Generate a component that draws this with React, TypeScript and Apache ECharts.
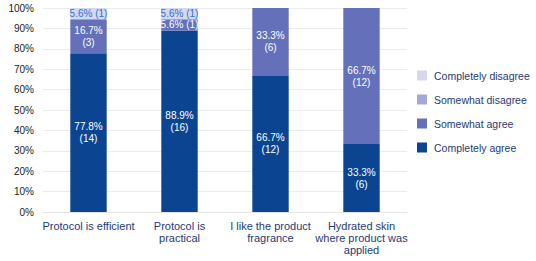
import React, { useEffect, useRef } from "react";
import * as echarts from "echarts";

const categories = [
  "Protocol is efficient",
  "Protocol is\npractical",
  "I like the product\nfragrance",
  "Hydrated skin\nwhere product was\napplied",
];
const seriesNames = ["Completely agree", "Somewhat agree", "Somewhat disagree", "Completely disagree"];
const pctCompletelyAgree = [77.8, 88.9, 66.7, 33.3];
const nCompletelyAgree = [14, 16, 12, 6];
const pctSomewhatAgree = [16.7, 5.6, 33.3, 66.7];
const nSomewhatAgree = [3, 1, 6, 12];
const pctSomewhatDisagree = [0, 0, 0, 0];
const nSomewhatDisagree = [0, 0, 0, 0];
const pctCompletelyDisagree = [5.6, 5.6, 0, 0];
const nCompletelyDisagree = [1, 1, 0, 0];
const yTicks = [0, 10, 20, 30, 40, 50, 60, 70, 80, 90, 100];

const colors = ["#0b4592", "#6470b9", "#a4a7d9", "#d5d6ef"];
const labelColors = ["#ffffff", "#ffffff", "#ffffff", "#2f74d0"];

export default function App() {
  const ref = useRef<HTMLDivElement>(null);
  useEffect(() => {
    document.body.style.margin = "0";
    if (!ref.current) return;
    const chart = echarts.init(ref.current, null, { renderer: "svg" });
    const pcts = [pctCompletelyAgree, pctSomewhatAgree, pctSomewhatDisagree, pctCompletelyDisagree];
    const ns = [nCompletelyAgree, nSomewhatAgree, nSomewhatDisagree, nCompletelyDisagree];
    const series = seriesNames.map((name, si) => ({
      name,
      type: "bar",
      stack: "total",
      barWidth: "40%",
      itemStyle: { color: colors[si] },
      data: pcts[si].map((v, i) => ({ value: v, n: ns[si][i] })),
      label: {
        show: true,
        position: "inside",
        color: labelColors[si],
        fontSize: 10,
        fontFamily: "Liberation Sans, Arial, sans-serif",
        lineHeight: 12,
        formatter: (p: any) => {
          const v = p.value as number;
          if (!v) return "";
          const n = p.data.n;
          return v < 10 ? `${v.toFixed(1)}% (${n})` : `${v.toFixed(1)}%\n(${n})`;
        },
      },
    }));
    chart.setOption({
      animation: false,
      grid: { left: 43, right: 129, top: 8, bottom: 49, containLabel: false },
      legend: {
        orient: "vertical",
        left: 417,
        top: 70,
        padding: 0,
        itemWidth: 10,
        itemHeight: 10,
        itemGap: 13,
        icon: "rect",
        data: [...seriesNames].reverse(),
        textStyle: {
          color: "#1f3a75",
          fontSize: 10.5,
          fontFamily: "Liberation Sans, Arial, sans-serif",
          padding: [0, 0, 0, 2],
        },
      },
      xAxis: {
        type: "category",
        data: categories,
        axisLine: { show: true, lineStyle: { color: "#e6e6e6", width: 1 } },
        axisTick: { show: false },
        axisLabel: {
          color: "#1f3a75",
          fontSize: 11,
          lineHeight: 12,
          margin: 8,
          interval: 0,
          fontFamily: "Liberation Sans, Arial, sans-serif",
        },
      },
      yAxis: {
        type: "value",
        min: yTicks[0],
        max: yTicks[yTicks.length - 1],
        interval: 10,
        axisLine: { show: false },
        axisTick: { show: false },
        splitLine: { lineStyle: { color: "#ebebeb", width: 1 } },
        axisLabel: {
          formatter: "{value}%",
          color: "#222222",
          fontSize: 10,
          margin: 9,
          fontFamily: "Liberation Sans, Arial, sans-serif",
        },
      },
      series,
    });
    return () => chart.dispose();
  }, []);
  return <div ref={ref} style={{ width: 536, height: 261 }} />;
}
